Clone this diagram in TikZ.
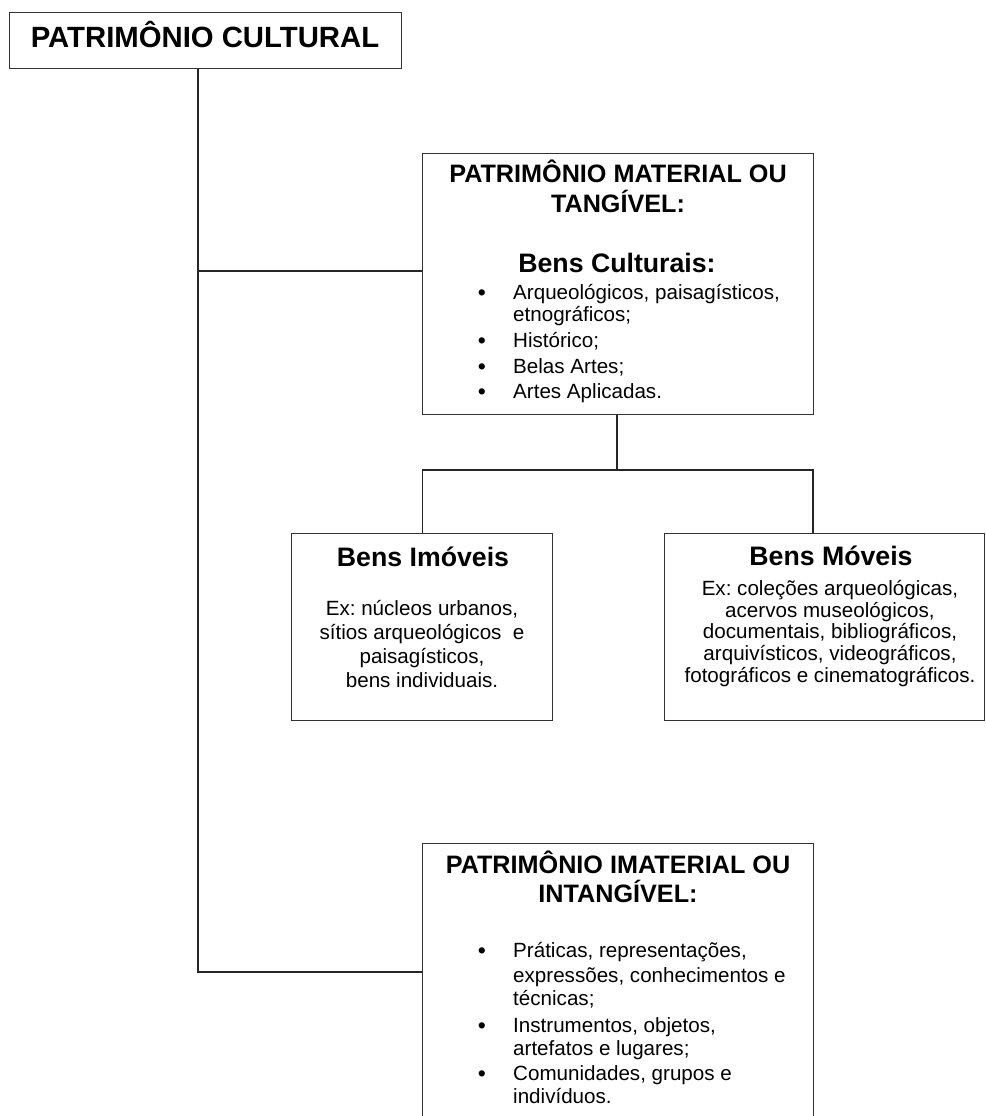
\documentclass[tikz,border=0pt]{standalone}
\usepackage{fontspec}
\setmainfont{Liberation Sans}
\frenchspacing
\begin{document}
\begin{tikzpicture}[x=1pt,y=-1pt,
  box/.style={draw=black!80, line width=1.3pt, fill=white, anchor=north west, inner sep=0pt},
  conn/.style={draw=black!85, line width=1.3pt},
  toptitle/.style={font=\fontsize{29.3}{32}\selectfont\bfseries, anchor=base, inner sep=0pt},
  ttl/.style={font=\fontsize{25.2}{28}\selectfont\bfseries, anchor=base, inner sep=0pt},
  sub/.style={font=\fontsize{26.7}{28}\selectfont\bfseries, anchor=base, inner sep=0pt},
  txt/.style={font=\fontsize{20.6}{24}\selectfont, anchor=base, inner sep=0pt},
  item/.style={font=\fontsize{20.6}{24}\selectfont, anchor=base west, inner sep=0pt},
  bul/.style={font=\fontsize{23}{24}\selectfont, anchor=base, inner sep=0pt}]
\useasboundingbox (0,0) rectangle (985,1116);
\fill[white] (0,0) rectangle (985,1116);

% boxes
\node[box, minimum width=392pt, minimum height=56pt] (top) at (9,12) {};
\node[box, minimum width=391pt, minimum height=261pt] (mat) at (422,153) {};
\node[box, minimum width=261pt, minimum height=187pt] (imov) at (291,533) {};
\node[box, minimum width=320pt, minimum height=187pt] (mov) at (664,533) {};
\node[box, minimum width=391pt, minimum height=300pt] (imat) at (422,843) {};

% connectors
\coordinate (j1) at (198,271);
\coordinate (j2) at (198,972);
\coordinate (m) at (617,470);
\coordinate (mr) at (813,470);
\draw[conn] (top.south -| j1) -- (j2) -- (j2 -| imat.west);
\draw[conn] (j1) -- (j1 -| mat.west);
\draw[conn] (mat.south -| m) -- (m);
\draw[conn] (imov.north) -- (imov.north |- m) -- (mr) -- (mr |- mov.north);

% top
\node[toptitle] (t0) at (205,47.5) {PATRIMÔNIO CULTURAL};

% material
\node[ttl] (m1) at (618,182) {PATRIMÔNIO MATERIAL OU};
\node[ttl] (m2) at (618,212) {TANGÍVEL:};
\node[sub] (m3) at (617,272) {Bens Culturais:};
\node[bul] (mb1) at (482,300) {•};
\node[bul] (mb2) at (482,348) {•};
\node[bul] (mb3) at (482,374) {•};
\node[bul] (mb4) at (482,399) {•};
\node[item] (mi1) at (513,299) {Arqueológicos, paisagísticos,};
\node[item] (mi2) at (513,321) {etnográficos;};
\node[item] (mi3) at (513,347) {Histórico;};
\node[item] (mi4) at (513,373) {Belas Artes;};
\node[item] (mi5) at (513,398) {Artes Aplicadas.};

% bens imoveis
\node[sub] (i0) at (423,566) {Bens Imóveis};
\node[txt] (i1) at (422,615) {Ex: núcleos urbanos,};
\node[txt] (i2) at (422,639) {sítios arqueológicos\ \ e};
\node[txt] (i3) at (422,663) {paisagísticos,};
\node[txt] (i4) at (422,687) {bens individuais.};

% bens moveis
\node[sub] (v0) at (831,565) {Bens Móveis};
\node[txt] (v1) at (830,595) {Ex: coleções arqueológicas,};
\node[txt] (v2) at (830,617) {acervos museológicos,};
\node[txt] (v3) at (830,638) {documentais, bibliográficos,};
\node[txt] (v4) at (830,660) {arquivísticos, videográficos,};
\node[txt] (v5) at (830,682) {fotográficos e cinematográficos.};

% imaterial
\node[ttl] (n1) at (618,873) {PATRIMÔNIO IMATERIAL OU};
\node[ttl] (n2) at (618,902) {INTANGÍVEL:};
\node[bul] (nb1) at (482,958) {•};
\node[bul] (nb2) at (482,1033) {•};
\node[bul] (nb3) at (482,1081) {•};
\node[item] (ni1) at (513,957) {Práticas, representações,};
\node[item] (ni2) at (513,982) {expressões, conhecimentos e};
\node[item] (ni3) at (513,1005) {técnicas;};
\node[item] (ni4) at (513,1032) {Instrumentos, objetos,};
\node[item] (ni5) at (513,1055) {artefatos e lugares;};
\node[item] (ni6) at (513,1080) {Comunidades, grupos e};
\node[item] (ni7) at (513,1103) {indivíduos.};
\end{tikzpicture}
\end{document}
